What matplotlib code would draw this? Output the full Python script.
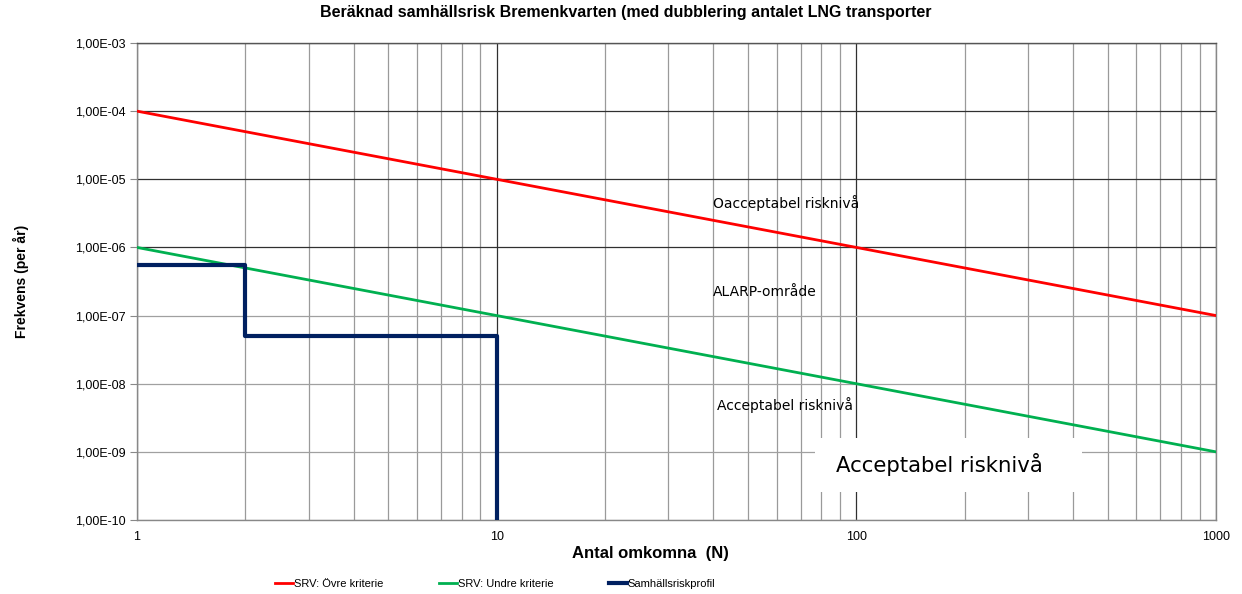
import matplotlib.pyplot as plt
from matplotlib.patches import Rectangle
from matplotlib.ticker import LogLocator, FixedLocator, NullFormatter, FuncFormatter

plt.rcParams['font.family'] = ['Liberation Sans', 'DejaVu Sans']

# SRV-kriterier (N, frekvens)
ovre_n = [1, 1000]
ovre_f = [1e-4, 1e-7]
undre_n = [1, 1000]
undre_f = [1e-6, 1e-9]

# samhällsriskprofil (trappsteg)
profil_n = [1, 2, 2, 10, 10]
profil_f = [5.5e-7, 5.5e-7, 5e-8, 5e-8, 1e-10]

titel = 'Beräknad samhällsrisk Bremenkvarten (med dubblering antalet LNG transporter'
etiketter = [('Oacceptabel risknivå', 40, 4.5e-6),
             ('ALARP-område', 40, 2.2e-7),
             ('Acceptabel risknivå', 41, 4.8e-9)]

fig = plt.figure(figsize=(12.42, 5.94), dpi=100)
ax = fig.add_axes([137/1242, 1 - 520/594, (1216-137)/1242, (520-43)/594])

ax.plot(ovre_n, ovre_f, color='#ff0000', lw=2, label='SRV: Övre kriterie', zorder=3)
ax.plot(undre_n, undre_f, color='#00b050', lw=2, label='SRV: Undre kriterie', zorder=3)
ax.plot(profil_n, profil_f, color='#002060', lw=3, label='Samhällsriskprofil', zorder=4)

ax.set_xscale('log')
ax.set_yscale('log')
ax.set_xlim(1, 1000)
ax.set_ylim(1e-10, 1e-3)


def yfmt(v, p):
    s = '%.2E' % v
    mant, ex = s.split('E')
    return mant.replace('.', ',') + 'E' + ex[0] + ex[1:].zfill(2)


ax.xaxis.set_major_locator(FixedLocator([1, 10, 100, 1000]))
ax.xaxis.set_major_formatter(FuncFormatter(lambda v, p: f'{v:.0f}'))
ax.xaxis.set_minor_locator(LogLocator(base=10, subs=range(2, 10)))
ax.xaxis.set_minor_formatter(NullFormatter())
ax.yaxis.set_major_locator(FixedLocator([10.0**k for k in range(-10, -2)]))
ax.yaxis.set_major_formatter(FuncFormatter(yfmt))
ax.yaxis.set_minor_locator(FixedLocator([]))

ax.grid(True, which='major', axis='both', color='#303030', lw=0.9)
ax.grid(True, which='minor', axis='x', color='#9a9a9a', lw=0.9)
for gl, v in zip(ax.yaxis.get_gridlines(), ax.get_yticks()):
    if v < 5e-7:
        gl.set_color('#a0a0a0')

ax.tick_params(axis='y', which='major', length=5, color='#888888', labelsize=9, pad=3)
ax.tick_params(axis='x', which='major', length=0, labelsize=9, pad=8)
ax.tick_params(axis='x', which='minor', length=0)
for s in ax.spines.values():
    s.set_color('#888888')
    s.set_linewidth(1)
ax.spines['top'].set_color('#555555')

fig.text(626/1242, 1 - 13/594, titel, fontsize=11.5, fontweight='bold', ha='center', va='center')
ax.set_xlabel('Antal omkomna  (N)', fontsize=12, fontweight='bold', labelpad=2)
ax.xaxis.label.set_x((650 - 137) / 1079)
ax.set_ylabel('Frekvens (per år)', fontsize=10, fontweight='bold', labelpad=33)

for txt, xn, yf in etiketter:
    ax.text(xn, yf, txt, fontsize=10, family=['DejaVu Sans'], va='center', ha='left', zorder=5)

# vit ruta med stor etikett
ax.add_patch(Rectangle(((815 - 137) / 1079, (520 - 492) / 477), 267 / 1079, 54 / 477,
                       transform=ax.transAxes, fc='white', ec='none', zorder=6))
ax.text((836 - 137) / 1079, (520 - 465) / 477, 'Acceptabel risknivå', transform=ax.transAxes,
        fontsize=15.3, family=['DejaVu Sans'], va='center', ha='left', zorder=7)

fig.legend(loc='center left', bbox_to_anchor=(265/1242, 1 - 584/594), ncol=3, frameon=False,
           fontsize=8, handlelength=1.6, handletextpad=0.1, columnspacing=5.0)

fig.savefig('out.png', dpi=100)
